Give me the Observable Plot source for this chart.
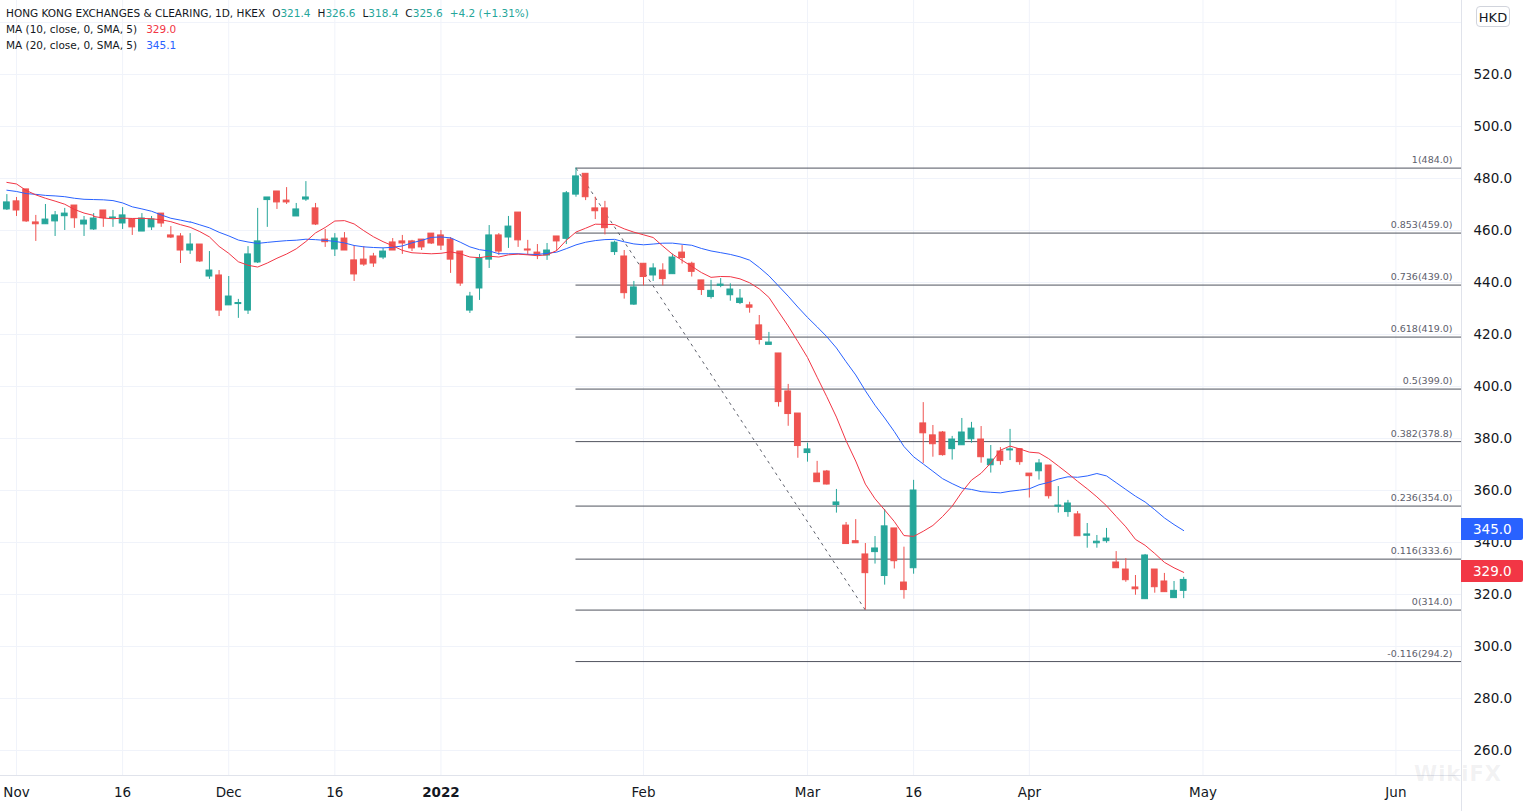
<!DOCTYPE html>
<html>
<head>
<meta charset="utf-8">
<script src="https://cdn.jsdelivr.net/npm/d3@7"></script>
<script src="https://cdn.jsdelivr.net/npm/@observablehq/plot@0.6"></script>
<style>
  html, body { margin: 0; padding: 0; background: #ffffff; }
  #wrap { position: relative; width: 1525px; height: 811px; overflow: hidden; font-family: "DejaVu Sans", sans-serif; }
  #wrap svg { position: absolute; left: 0; top: 0; }
  .legend { position: absolute; left: 6px; top: 5px; font-size: 10.5px; line-height: 16px; color: #131722; white-space: nowrap; }
  .legend .v { color: #26a69a; }
  .legend .gap { margin-left: 7px; }
  .legend .ma10 { color: #f23645; margin-left: 9px; }
  .legend .ma20 { color: #2962ff; margin-left: 9px; }
  .sep { position: absolute; background: #e0e3eb; }
  .pricebox { position: absolute; left: 1461px; width: 62px; height: 22px; color: #ffffff; font-size: 13.5px; line-height: 22px; padding-left: 12px; box-sizing: border-box; border-radius: 0 2px 2px 0; }
  .hkd { position: absolute; left: 1476px; top: 6px; width: 34px; height: 21px; border: 1px solid #d1d4dc; border-radius: 4px; background: #fff; font-size: 13px; line-height: 21px; text-align: center; color: #131722; box-sizing: border-box; }
  .wm { position: absolute; left: 1414px; top: 762px; font-size: 21px; font-weight: bold; color: rgba(120,123,134,0.10); font-family: "DejaVu Sans", sans-serif; letter-spacing: 1px; }
</style>
</head>
<body>
<div id="wrap"></div>
<script>
// ---- Data (trading-day index, first bar = Oct 29 2021 at index -1) ----
const startIndex = -1;
const opens = [468.1,471.2,475.8,463.1,462.4,463.5,465.5,469.6,462.3,460.4,467.7,464.7,462.7,464.2,459.6,461.2,466.5,458.1,457.7,452.3,454.6,442.3,442.7,431.2,431.7,429.2,447.7,471.7,475.0,471.5,465.4,471.9,468.5,456.5,452.7,456.9,448.5,448.8,450.0,449.6,455.4,455.8,455.8,456.5,458.8,458.1,456.5,451.9,429.2,437.7,448.8,458.1,457.3,466.9,452.7,451.5,450.4,457.7,456.8,473.8,481.8,468.5,468.5,451.7,450.0,431.5,447.2,442.7,444.6,443.2,451.5,447.2,440.8,434.4,438.7,435.1,432.1,431.2,423.5,416.0,412.7,398.1,389.6,374.4,366.5,367.3,354.4,346.5,340.5,335.4,336.3,327.1,345.4,324.6,330.1,385.8,381.2,382.3,375.9,377.4,379.7,379.6,369.7,375.0,375.4,375.9,366.5,367.4,369.6,353.8,351.7,350.8,342.6,339.7,340.5,332.3,329.6,322.7,318.2,329.6,325.0,318.6,321.4];
const highs = [473.8,472.7,475.8,465.8,470.0,467.3,468.5,469.6,465.4,466.5,467.7,467.7,468.8,464.2,466.5,465.4,466.5,461.5,458.8,458.8,454.6,451.9,444.6,442.3,433.5,453.8,468.5,472.7,475.0,476.5,470.4,478.8,470.4,460.4,458.8,459.2,454.2,453.8,451.2,453.1,456.9,458.1,456.2,456.5,458.8,460.0,457.3,451.9,436.2,450.8,461.9,458.8,465.4,466.9,456.2,454.6,455.0,457.7,475.0,484.0,481.8,472.8,471.2,455.9,452.3,440.4,447.2,447.2,447.2,450.9,454.2,447.8,440.8,440.8,441.5,439.5,437.3,432.4,427.3,420.8,412.7,400.8,389.6,378.2,371.2,367.7,360.4,347.7,348.8,339.6,342.3,352.7,345.4,338.2,363.9,393.8,385.0,382.7,380.8,387.7,386.2,384.6,377.3,376.5,383.5,375.9,366.5,371.9,369.6,361.5,356.2,351.9,347.3,342.7,345.4,336.5,333.8,327.3,335.4,329.6,328.1,325.0,326.6];
const lows = [467.7,465.4,463.1,455.8,462.3,457.7,460.0,460.8,457.7,460.0,461.2,461.2,460.4,458.1,459.6,460.0,461.2,456.9,447.3,450.8,447.7,441.2,426.9,431.2,426.2,427.7,447.3,461.2,468.1,470.0,465.4,471.2,461.9,453.5,450.0,452.3,440.4,446.2,445.8,448.8,452.3,450.8,451.9,452.3,454.6,452.3,443.5,438.5,428.1,433.1,445.4,450.4,453.1,453.5,450.4,448.8,448.5,451.9,454.6,472.8,471.5,464.2,458.3,450.4,433.6,431.2,438.7,440.4,438.7,443.2,447.1,442.1,435.0,433.6,438.0,432.8,431.5,428.2,416.0,416.0,392.1,384.7,372.4,370.9,363.2,362.1,351.3,339.4,339.7,314.0,331.7,323.6,329.8,318.2,327.8,370.4,372.8,373.2,371.7,377.4,378.2,370.5,366.7,369.7,371.5,369.7,357.1,364.0,356.7,351.3,349.7,342.4,337.8,337.8,339.7,330.1,324.7,319.7,318.2,320.5,320.9,318.6,318.4];
const closes = [470.8,467.7,463.5,462.4,464.2,465.8,466.5,464.7,463.8,464.6,464.7,465.0,465.8,461.2,464.6,464.2,462.7,457.3,452.3,454.6,448.1,444.6,429.2,434.6,432.1,450.8,455.8,472.7,470.8,470.8,468.1,472.7,462.3,455.5,456.9,452.3,443.1,446.9,447.3,451.9,452.3,455.0,453.1,453.5,455.0,454.2,448.8,439.6,434.6,449.2,458.1,451.9,461.5,456.2,452.3,450.8,452.3,455.8,474.3,480.8,472.8,467.4,460.9,455.3,435.9,438.1,442.1,445.4,441.3,449.6,449.4,444.1,437.1,436.8,439.2,437.3,433.8,430.3,417.9,416.9,394.0,389.4,377.1,375.8,363.2,362.3,355.4,339.4,339.7,328.2,337.7,346.2,332.8,321.7,360.0,382.0,377.8,373.6,379.6,382.3,383.8,372.8,371.9,371.3,375.8,370.9,365.5,370.4,357.8,354.2,355.0,342.4,343.1,340.3,341.5,330.1,325.5,322.0,335.0,322.8,320.9,321.4,325.6];

const ma10Lead = [478.5,477.9,475.4,473.7,472.4,471.3,470.1,468.1,466.7,465.8];             // index -1..8
const ma20Lead = [475.5,475.0,474.2,473.9,473.5,473.3,473.0,472.4,472.0,471.9,471.8,471.5,470.6,469.1,468.3,467.4,466.0,464.7,464.0,463.2]; // index -1..18

// Fibonacci retracement
const fibRatios = [1, 0.853, 0.736, 0.618, 0.5, 0.382, 0.236, 0.116, 0, -0.116];
const fibPrices = [484.0, 459.0, 439.0, 419.0, 399.0, 378.8, 354.0, 333.6, 314.0, 294.2];
const fibStartIndex = 58;
const trendStart = [58, 484.0];
const trendEnd = [88, 314.0];

// Axes
const xTickIndex = [0, 11, 22, 33, 44, 65, 82, 93, 105, 123, 143];
const xTickLabels = ["Nov", "16", "Dec", "16", "2022", "Feb", "Mar", "16", "Apr", "May", "Jun"];
const yGrid = [260, 280, 300, 320, 340, 360, 380, 400, 420, 440, 460, 480, 500, 520, 540];
const yTicks = [260, 280, 300, 320, 340, 360, 380, 400, 420, 440, 460, 480, 500, 520];

// Legend texts
const title = "HONG KONG EXCHANGES & CLEARING, 1D, HKEX";
const lastChange = "+4.2 (+1.31%)";
const ma10Label = "MA (10, close, 0, SMA, 5)";
const ma20Label = "MA (20, close, 0, SMA, 5)";
const ma10Last = "329.0";
const ma20Last = "345.1";
const ma20AxisLast = "345.0";
const ma10Value = 329.0;
const ma20Value = 345.0;

// ---- Build ----
const candles = opens.map((o, k) => ({ i: startIndex + k, open: o, high: highs[k], low: lows[k], close: closes[k] }));
const UP = "#26a69a", DOWN = "#ef5350";
const col = d => (d.close >= d.open ? UP : DOWN);
const lead10 = ma10Lead.map((v, k) => ({ i: startIndex + k, v }));
const lead20 = ma20Lead.map((v, k) => ({ i: startIndex + k, v }));
const fib = fibRatios.map((r, k) => ({ r, p: fibPrices[k] }));

const xDomain = [-1.66, 149.8];
const yDomain = [250.38, 548.46];

const chart = Plot.plot({
  width: 1525,
  height: 811,
  marginLeft: 0,
  marginRight: 64,
  marginTop: 0,
  marginBottom: 36,
  x: { domain: xDomain, axis: null, label: null },
  y: { domain: yDomain, axis: null, label: null },
  color: { type: "identity" },
  style: { fontFamily: "DejaVu Sans, sans-serif", fontSize: "13.5px", color: "#131722", background: "#ffffff", overflow: "visible" },
  marks: [
    Plot.gridY(yGrid, { stroke: "#f0f3fa", strokeOpacity: 1 }),
    Plot.gridX(xTickIndex, { stroke: "#f0f3fa", strokeOpacity: 1 }),
    Plot.ruleY(fib, { y: "p", x1: fibStartIndex, x2: xDomain[1], stroke: "#50535e", strokeWidth: 1 }),
    Plot.text(fib, { x: xDomain[1], y: "p", text: d => `${d.r}(${d.p.toFixed(1)})`, textAnchor: "end", dx: -9, dy: -8, fontSize: 9.5, fill: "#5d606b" }),
    Plot.link([0], { x1: () => trendStart[0], y1: () => trendStart[1], x2: () => trendEnd[0], y2: () => trendEnd[1], stroke: "#5d606b", strokeWidth: 1, strokeDasharray: "3,4" }),
    Plot.ruleX(candles, { x: "i", y1: "low", y2: "high", stroke: col, strokeWidth: 1 }),
    Plot.rect(candles, { x1: d => d.i - 0.3, x2: d => d.i + 0.3, y1: "open", y2: "close", fill: col, stroke: col, strokeWidth: 1 }),
    Plot.line(lead20, { x: "i", y: "v", stroke: "#2962ff", strokeWidth: 1 }),
    Plot.lineY(candles, Plot.windowY({ k: 20, anchor: "end", strict: true, reduce: "mean" }, { x: "i", y: "close", stroke: "#2962ff", strokeWidth: 1 })),
    Plot.line(lead10, { x: "i", y: "v", stroke: "#f23645", strokeWidth: 1 }),
    Plot.lineY(candles, Plot.windowY({ k: 10, anchor: "end", strict: true, reduce: "mean" }, { x: "i", y: "close", stroke: "#f23645", strokeWidth: 1 })),
    Plot.axisY(yTicks, { anchor: "right", label: null, tickSize: 0, tickPadding: 12, tickFormat: d => d.toFixed(1), fontSize: 13.5, fill: "#131722" }),
    Plot.axisX(xTickIndex, { anchor: "bottom", label: null, tickSize: 0, tickPadding: 12, tickFormat: d => xTickLabels[xTickIndex.indexOf(d)], fontSize: 13.5, fill: "#131722" })
  ]
});

d3.select(chart).selectAll("text").filter(function () { return this.textContent === "2022"; }).attr("font-weight", "bold");

const wrap = document.getElementById("wrap");
wrap.appendChild(chart);

const ys = chart.scale("y");
const plotRight = 1525 - 64;
const plotBottom = 811 - 36;

function div(cls, styles, html) {
  const e = document.createElement("div");
  e.className = cls;
  Object.assign(e.style, styles);
  if (html != null) e.innerHTML = html;
  wrap.appendChild(e);
  return e;
}

// separators
div("sep", { left: plotRight + "px", top: "0px", width: "1px", height: "811px" });
div("sep", { left: "0px", top: plotBottom + "px", width: plotRight + "px", height: "1px" });

// last value labels on the price scale
div("pricebox", { top: (ys.apply(ma20Value) - 11) + "px", background: "#2962ff" }, ma20AxisLast);
div("pricebox", { top: (ys.apply(ma10Value) - 11) + "px", background: "#f23645" }, ma10Last);

// currency box
div("hkd", {}, "HKD");

// watermark
div("wm", {}, "WikiFX");

// legend
const last = candles[candles.length - 1];
const esc = s => s.replace(/&/g, "&amp;");
div("legend", {},
  `<div>${esc(title)}<span class="gap">O<span class="v">${last.open.toFixed(1)}</span></span>` +
  `<span class="gap">H<span class="v">${last.high.toFixed(1)}</span></span>` +
  `<span class="gap">L<span class="v">${last.low.toFixed(1)}</span></span>` +
  `<span class="gap">C<span class="v">${last.close.toFixed(1)}</span></span>` +
  `<span class="gap v">${lastChange}</span></div>` +
  `<div>${ma10Label}<span class="ma10">${ma10Last}</span></div>` +
  `<div>${ma20Label}<span class="ma20">${ma20Last}</span></div>`
);
</script>
</body>
</html>
